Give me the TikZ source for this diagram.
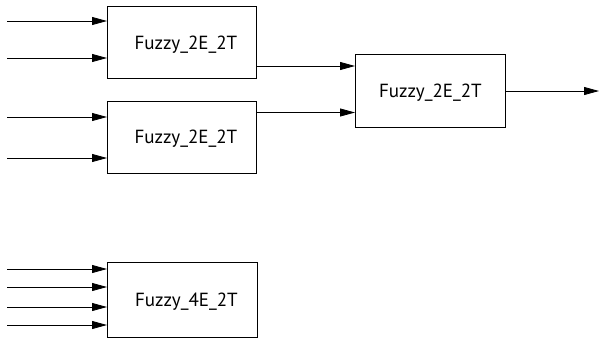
\documentclass[tikz,border=0pt]{standalone}
\usepackage{fontspec}
\setmainfont{PT Sans}
\usetikzlibrary{arrows.meta}
\begin{document}
\begin{tikzpicture}[x=1pt,y=-1pt,
  blk/.style={draw,line width=0.8pt,minimum width=149pt,minimum height=72pt,inner sep=0pt,text depth=0pt,font=\fontsize{19}{22}\selectfont},
  sig/.style={line width=0.8pt,-{Triangle[length=15pt,width=8pt]}}]
\useasboundingbox (0,0) rectangle (599,338);
\node[blk,anchor=north west] (b1) at (107,6) {\hspace*{8pt}Fuzzy\_2E\_2T};
\node[blk,anchor=north west] (b2) at (107,100.5) {\hspace*{8pt}Fuzzy\_2E\_2T};
\node[blk,anchor=north west,minimum width=150pt,minimum height=73pt] (b3) at (355,54) {Fuzzy\_2E\_2T};
\node[blk,anchor=north west,minimum width=150pt,minimum height=75pt] (b4) at (107,262) {\hspace*{8pt}Fuzzy\_4E\_2T};
\coordinate (i1) at (7,21);
\coordinate (i2) at (7,58);
\coordinate (i3) at (7,117);
\coordinate (i4) at (7,158);
\coordinate (j1) at (7,269);
\coordinate (j2) at (7,287);
\coordinate (j3) at (7,307);
\coordinate (j4) at (7,325);
\coordinate (o) at (599,91);
\draw[sig] (i1) -- (i1 -| b1.west);
\draw[sig] (i2) -- (i2 -| b1.west);
\draw[sig] (i3) -- (i3 -| b2.west);
\draw[sig] (i4) -- (i4 -| b2.west);
\draw[sig] (j1) -- (j1 -| b4.west);
\draw[sig] (j2) -- (j2 -| b4.west);
\draw[sig] (j3) -- (j3 -| b4.west);
\draw[sig] (j4) -- (j4 -| b4.west);
\draw[sig] (b1.east |- 0,66) -- (b3.west |- 0,66);
\draw[sig] (b2.east |- 0,112.5) -- (b3.west |- 0,112.5);
\draw[sig] (b3.east |- o) -- (o);
\end{tikzpicture}
\end{document}
